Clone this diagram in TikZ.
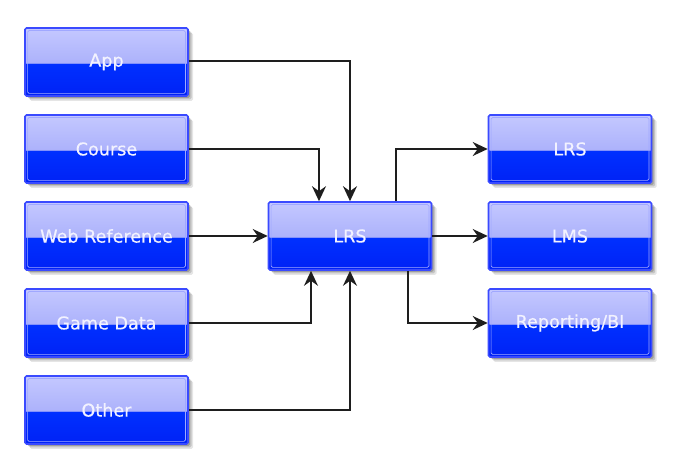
\documentclass[tikz,border=0pt]{standalone}
\usepackage{fontspec}
\newfontfamily\boxfont[FakeBold=0.6]{DejaVu Sans}
\usetikzlibrary{arrows.meta,shadows,calc}
\definecolor{topA}{HTML}{C4C8FF}
\definecolor{topB}{HTML}{969DF8}
\definecolor{botA}{HTML}{0030FF}
\definecolor{botB}{HTML}{0022F5}
\definecolor{edgeC}{HTML}{3A4AFF}
\definecolor{innerC}{HTML}{A0A8FF}
\definecolor{lineC}{HTML}{1E1E1E}
\tikzset{
  box/.style={
    rectangle, rounded corners=1.5pt, minimum width=163pt, minimum height=68pt,
    draw=edgeC, line width=1.6pt, fill=botA,
    text=white!95!blue, font=\boxfont\fontsize{17.6}{21}\selectfont,
    drop shadow={shadow xshift=5pt, shadow yshift=-5pt, opacity=0.10, fill=black},
    drop shadow={shadow xshift=3.5pt, shadow yshift=-3.5pt, opacity=0.15, fill=black},
    drop shadow={shadow xshift=2pt, shadow yshift=-2pt, opacity=0.2, fill=black},
    path picture={
      \fill[top color=topA, bottom color=topB]
        (path picture bounding box.north west) rectangle ([yshift=-2pt]path picture bounding box.east);
      \fill[top color=botA, bottom color=botB]
        ([yshift=-2pt]path picture bounding box.west) rectangle (path picture bounding box.south east);
      \draw[innerC, line width=0.7pt]
        ([shift={(2.6pt,-2.6pt)}]path picture bounding box.north west) rectangle
        ([shift={(-2.6pt,2.6pt)}]path picture bounding box.south east);
    }
  },
  conn/.style={draw=lineC, line width=1.7pt, -{Stealth[length=15pt 0, width=14pt 0, inset=5pt 0]}}
}
\begin{document}
\begin{tikzpicture}[x=1pt,y=1pt]
\useasboundingbox (0,0) rectangle (677,470);
\node[box] (app)    at (106.5,408) {App};
\node[box] (course) at (106.5,321) {Course};
\node[box] (web)    at (106.5,234) {Web Reference};
\node[box] (game)   at (106.5,147) {Game Data};
\node[box] (other)  at (106.5,60)  {Other};
\node[box] (lrs)    at (350,234)   {LRS};
\node[box] (rlrs)   at (570,321)   {LRS};
\node[box] (lms)    at (570,234)   {LMS};
\node[box] (rep)    at (570,147)   {Reporting/BI};
\coordinate (tA) at ([xshift=-31pt]lrs.north);
\coordinate (bA) at ([xshift=-39pt]lrs.south);
\coordinate (oA) at ([xshift=46pt]lrs.north);
\coordinate (oB) at ([xshift=58pt]lrs.south);
\draw[conn] ([yshift=1pt]app.east) -| (lrs.north);
\draw[conn] (course.east) -| (tA);
\draw[conn] (web.east) -- (lrs.west);
\draw[conn] (game.east) -| (bA);
\draw[conn] (other.east) -| (lrs.south);
\draw[conn] (oA) |- (rlrs.west);
\draw[conn] (lrs.east) -- (lms.west);
\draw[conn] (oB) |- (rep.west);
\end{tikzpicture}
\end{document}
